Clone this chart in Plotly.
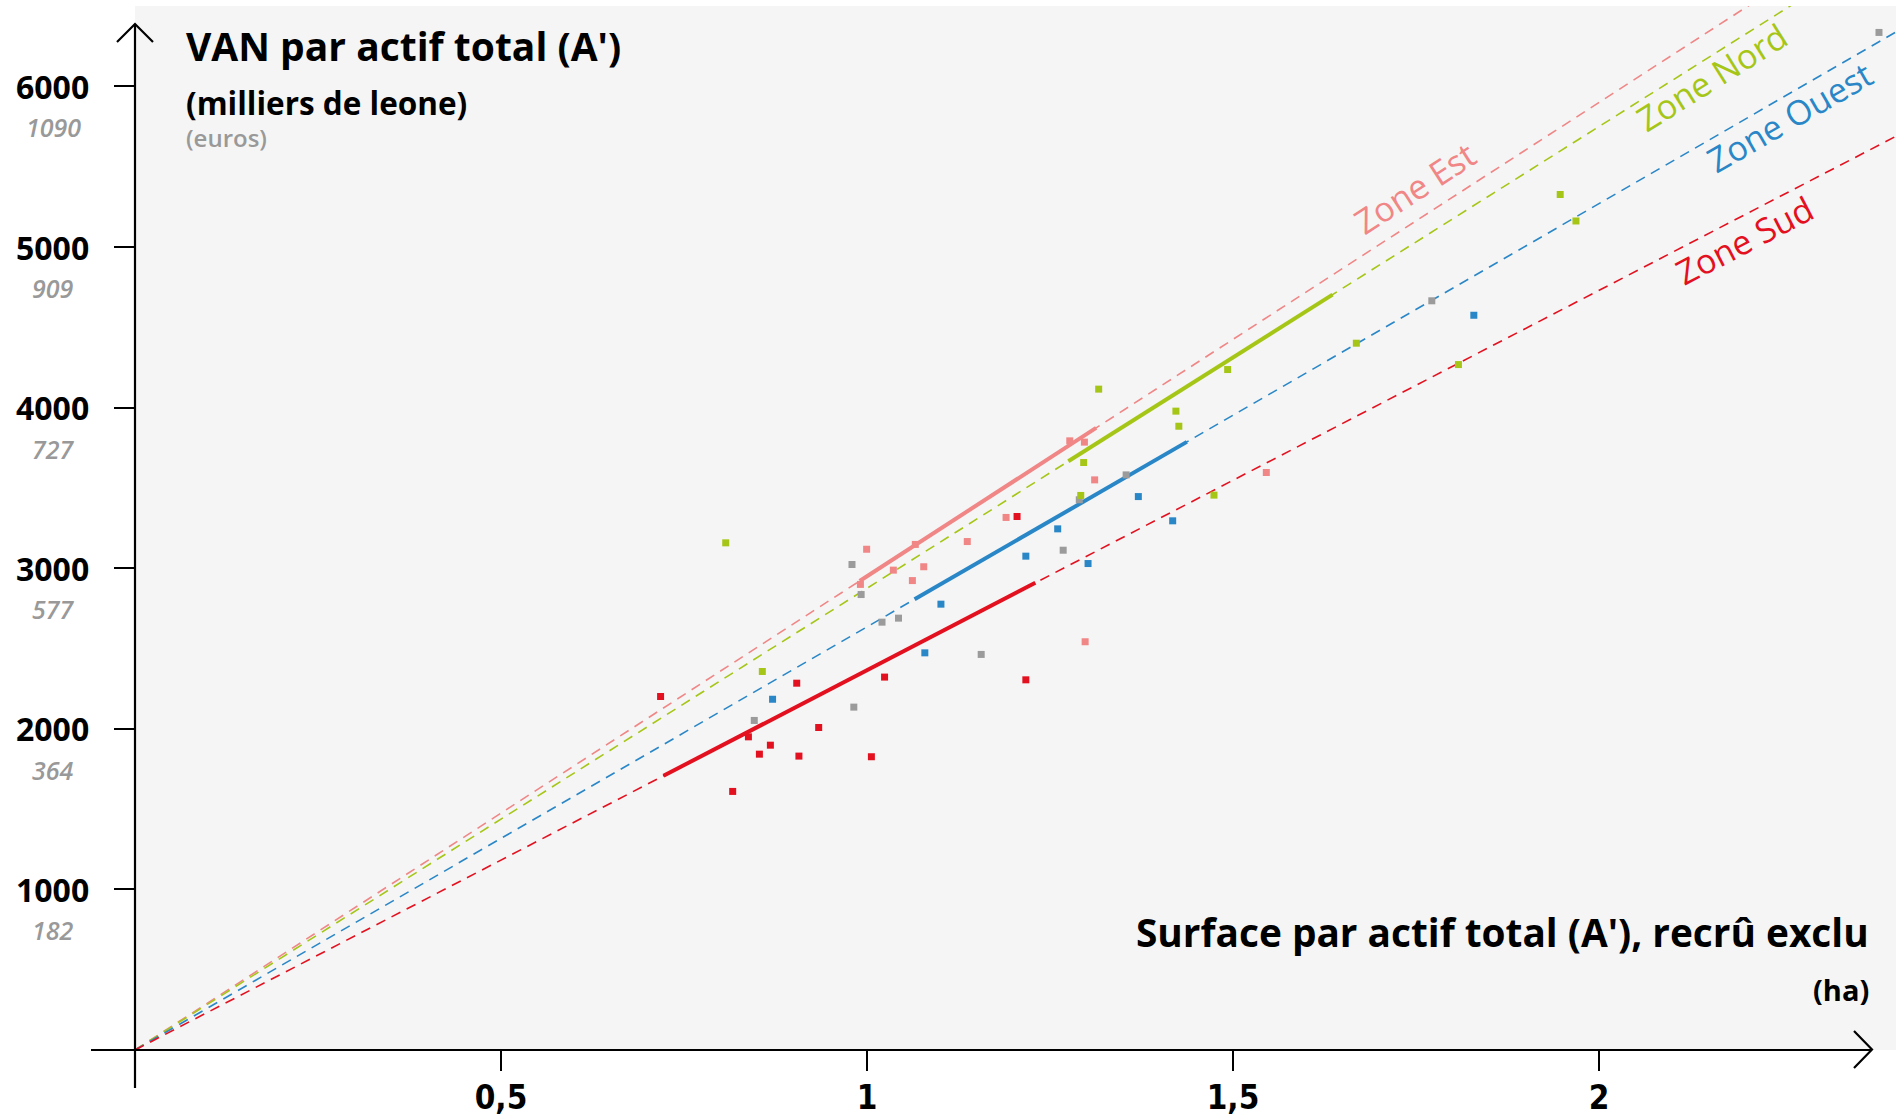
import plotly.graph_objects as go

# ---------------- data ----------------
est_x = [0.991, 0.9995, 1.036, 1.062, 1.066, 1.0775, 1.137, 1.190, 1.277, 1.297, 1.311, 1.298, 1.5455]
est_y = [2899, 3118, 2988, 2923, 3148, 3009, 3166, 3316, 3793, 3785, 3550, 2542, 3596]

nord_x = [0.807, 0.857, 1.292, 1.296, 1.3165, 1.422, 1.426, 1.474, 1.4927, 1.6685, 1.808, 1.947, 1.9685]
nord_y = [3158, 2357, 3453, 3658, 4115, 3978, 3884, 3455, 4237, 4401, 4268, 5327, 5162]

ouest_x = [0.871, 1.079, 1.101, 1.217, 1.2605, 1.302, 1.3707, 1.4176, 1.829]
ouest_y = [2184, 2473, 2776, 3075, 3245, 3029, 3446, 3295, 4575]

sud_x = [0.718, 0.8165, 0.838, 0.853, 0.868, 0.904, 0.907, 0.934, 1.006, 1.024, 1.205, 1.217]
sud_y = [2201, 1610, 1950, 1842, 1898, 2284, 1830, 2008, 1826, 2322, 3322, 2305]

autre_x = [0.846, 0.982, 0.9795, 0.992, 1.0205, 1.043, 1.156, 1.268, 1.290, 1.354, 1.7716, 2.3825]
autre_y = [2052, 2135, 3023, 2836, 2664, 2689, 2463, 3112, 3426, 3581, 4665, 6336]

zones = ["Zone Est", "Zone Nord", "Zone Ouest", "Zone Sud"]
slopes = [2950, 2875, 2635, 2365]          # VAN per ha (regression through origin)
seg_start = [0.99, 1.275, 1.065, 0.722]    # observed range of each zone
seg_end = [1.313, 1.636, 1.437, 1.230]

ytick_vals = [1000, 2000, 3000, 4000, 5000, 6000]
ytick_text = ["1000", "2000", "3000", "4000", "5000", "6000"]
ytick_euro = ["182", "364", "577", "727", "909", "1090"]
xtick_vals = [0.5, 1, 1.5, 2]
xtick_text = ["0,5", "1", "1,5", "2"]

# ---------------- styles ----------------
zone_colors = ["#f08686", "#a6c617", "#2a87c7", "#e3111f"]
gray = "#9b9b9b"
FONT = "Open Sans, Noto Sans, Lato, sans-serif"
COND = "Liberation Sans Narrow, DejaVu Sans Condensed, Roboto Condensed, Open Sans, sans-serif"

W, H = 1896, 1116
ML, MR, MT, MB = 135, 0, 6, 66
PW, PH = W - ML - MR, H - MT - MB
XMAX = PW / 732.0
YMAX = PH / 0.1606

label_pos = [(1.748, 5365, -33), (2.154, 6057, -32), (2.26, 5808, -30), (2.199, 5041, -27.5)]

fig = go.Figure()

# dashed regression lines through origin
for z, s, c in zip(zones, slopes, zone_colors):
    xs = [0, 2.6]
    fig.add_trace(go.Scatter(x=xs, y=[s * v for v in xs], mode="lines",
                             line=dict(color=c, width=1.6, dash="10px,7px"),
                             hoverinfo="skip", showlegend=False))
# solid segments over the observed range
for z, s, a, b, c in zip(zones, slopes, seg_start, seg_end, zone_colors):
    xs = [a, b]
    fig.add_trace(go.Scatter(x=xs, y=[s * v for v in xs], mode="lines",
                             line=dict(color=c, width=4),
                             hoverinfo="skip", showlegend=False))

# points
series = [(autre_x, autre_y, gray), (ouest_x, ouest_y, zone_colors[2]),
          (sud_x, sud_y, zone_colors[3]), (est_x, est_y, zone_colors[0]),
          (nord_x, nord_y, zone_colors[1])]
for xs, ys, c in series:
    fig.add_trace(go.Scatter(x=xs, y=ys, mode="markers",
                             marker=dict(symbol="square", size=7, color=c, line=dict(width=0)),
                             showlegend=False))

annotations = []
# zone labels
for z, (lx, ly, ang), c in zip(zones, label_pos, zone_colors):
    annotations.append(dict(x=lx, y=ly, xref="x", yref="y", text=z, showarrow=False,
                            textangle=ang, font=dict(family=FONT, size=34, color=c),
                            xanchor="center", yanchor="middle"))

# y tick labels (leone + euros)
for v, t, e in zip(ytick_vals, ytick_text, ytick_euro):
    annotations.append(dict(x=(52 - ML) / PW, y=v, xref="paper", yref="y", text=t,
                            showarrow=False, xanchor="center", yanchor="middle",
                            font=dict(family=FONT, size=32, color="black", weight=700)))
    annotations.append(dict(x=(53 - ML) / PW, y=v, xref="paper", yref="y", text="<i>" + e + "</i>",
                            showarrow=False, xanchor="center", yanchor="middle", yshift=-41,
                            font=dict(family=FONT, size=25, color="#999999", weight=600)))

def py(yf):
    return (H - MB - yf) / PH

def px(xf):
    return (xf - ML) / PW

# titles
annotations += [
    dict(x=px(184), y=py(46), xref="paper", yref="paper", text="VAN par actif total (A')",
         showarrow=False, xanchor="left", yanchor="middle",
         font=dict(family=FONT, size=39, color="black", weight=700)),
    dict(x=px(184), y=py(102), xref="paper", yref="paper", text="(milliers de leone)",
         showarrow=False, xanchor="left", yanchor="middle",
         font=dict(family=FONT, size=31.5, color="black", weight=700)),
    dict(x=px(184), y=py(138), xref="paper", yref="paper", text="(euros)",
         showarrow=False, xanchor="left", yanchor="middle",
         font=dict(family=FONT, size=24, color="#999999", weight=600)),
    dict(x=px(1871), y=py(932), xref="paper", yref="paper",
         text="Surface par actif total (A'), recrû exclu",
         showarrow=False, xanchor="right", yanchor="middle",
         font=dict(family=FONT, size=38.8, color="black", weight=700)),
    dict(x=px(1871), y=py(989), xref="paper", yref="paper", text="(ha)",
         showarrow=False, xanchor="right", yanchor="middle",
         font=dict(family=FONT, size=29, color="black", weight=700)),
]

# axis lines and arrows
ax = dict(type="line", xref="paper", yref="paper", line=dict(color="black", width=2.2))
shapes = [
    dict(ax, x0=0, x1=0, y0=py(1088), y1=py(24)),
    dict(ax, x0=px(91), x1=px(1872), y0=0, y1=0),
    dict(type="path", xref="paper", yref="paper", line=dict(color="black", width=2.2),
         path=f"M {px(117)},{py(42)} L {px(135)},{py(24)} L {px(153)},{py(42)}"),
    dict(type="path", xref="paper", yref="paper", line=dict(color="black", width=2.2),
         path=f"M {px(1854)},{py(1031)} L {px(1872)},{py(1049.5)} L {px(1854)},{py(1068)}"),
]

fig.update_layout(
    width=W, height=H,
    margin=dict(l=ML, r=MR, t=MT, b=MB, pad=0, autoexpand=False),
    paper_bgcolor="white", plot_bgcolor="#f5f5f5",
    showlegend=False,
    annotations=annotations, shapes=shapes,
    xaxis=dict(range=[0, XMAX], showgrid=False, zeroline=False, showline=False,
               automargin=False,
               tickmode="array", tickvals=xtick_vals, ticktext=xtick_text,
               ticks="outside", ticklen=20, tickwidth=2, tickcolor="black",
               tickfont=dict(family=COND, size=33, color="black", weight=700),
               ticklabelstandoff=-2, fixedrange=True),
    yaxis=dict(range=[0, YMAX], showgrid=False, zeroline=False, showline=False,
               automargin=False,
               tickmode="array", tickvals=ytick_vals, ticktext=[""] * len(ytick_vals),
               ticks="outside", ticklen=20, tickwidth=2, tickcolor="black",
               showticklabels=False, fixedrange=True),
)

fig.write_html("out.html", config={"displayModeBar": False},
               post_script="document.body.style.margin='0';document.body.style.overflow='hidden';")
